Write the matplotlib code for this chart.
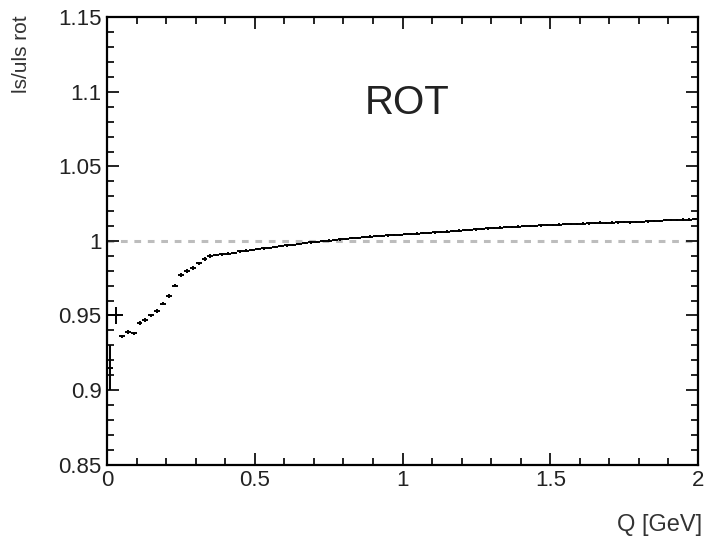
import numpy as np
import matplotlib.pyplot as plt
from matplotlib.ticker import MultipleLocator, FuncFormatter

plt.rcParams['font.family'] = ['Liberation Sans', 'DejaVu Sans']

# bin centres (0.02 GeV bins) and ratio values
q_centres = np.arange(0.01, 2.0, 0.02)
ratio = [
    0.915, 0.950, 0.936, 0.939, 0.938, 0.945, 0.947, 0.950, 0.953, 0.958,
    0.963, 0.970, 0.977, 0.980, 0.982, 0.985, 0.988, 0.990, 0.9905, 0.991,
    0.9915, 0.992, 0.993, 0.9935, 0.994, 0.9945, 0.995, 0.9955, 0.996, 0.9965,
    0.997, 0.9975, 0.998, 0.9985, 0.999, 0.9995, 1.000, 1.0003, 1.0008, 1.001,
    1.0015, 1.0018, 1.002, 1.0025, 1.003, 1.0032, 1.0035, 1.0038, 1.004, 1.004,
    1.0045, 1.0048, 1.005, 1.0052, 1.0055, 1.0057, 1.006, 1.0063, 1.0068, 1.007,
    1.0073, 1.0075, 1.0078, 1.008, 1.0085, 1.0088, 1.009, 1.0092, 1.0095, 1.0097,
    1.0099, 1.0100, 1.0102, 1.0104, 1.0106, 1.0108, 1.011, 1.0112, 1.0113, 1.0115,
    1.0117, 1.0118, 1.012, 1.0123, 1.0122, 1.0124, 1.0125, 1.0126, 1.0125, 1.0127,
    1.0129, 1.0131, 1.0133, 1.0136, 1.014, 1.0141, 1.0142, 1.0143, 1.0144, 1.0146,
]
ratio_err = [0.015, 0.006] + [0.0012] * 16 + [0.0008] * 82
bin_half = [0.01, 0.025] + [0.01] * 98

fig = plt.figure(figsize=(7.04, 5.41), dpi=100)
ax = fig.add_axes([0.152, 0.1414, 0.8395, 0.8263])

# reference line at 1
ax.plot([0, 2], [1, 1], color='#bdbdbd', lw=2.2, ls=(0, (2.2, 2.2)), zorder=1)

ax.errorbar(q_centres, ratio, xerr=bin_half, yerr=ratio_err, fmt='none',
            ecolor='black', elinewidth=1.4, capsize=0, zorder=3)

ax.set_xlim(0, 2)
ax.set_ylim(0.85, 1.15)

ax.xaxis.set_major_locator(MultipleLocator(0.5))
ax.xaxis.set_minor_locator(MultipleLocator(0.1))
ax.yaxis.set_major_locator(MultipleLocator(0.05))
ax.yaxis.set_minor_locator(MultipleLocator(0.01))
fmt = FuncFormatter(lambda v, p: ('%g' % round(v, 3)))
ax.xaxis.set_major_formatter(fmt)
ax.yaxis.set_major_formatter(fmt)

ax.tick_params(which='both', direction='in', top=True, right=True,
               width=1.4, labelsize=16, pad=4, colors='#222222')
ax.tick_params(which='major', length=8.5)
ax.tick_params(which='minor', length=5)
for s in ax.spines.values():
    s.set_linewidth(1.6)

ax.text(1.015, 1.0926, 'ROT', fontsize=29, ha='center', va='center', color='#222222')

fig.text(0.03, 0.972, 'ls/uls rot', rotation=90, ha='center', va='top',
         fontsize=15, color='#333333')
fig.text(0.997, 0.01, 'Q [GeV]', ha='right', va='bottom', fontsize=17, color='#333333')

plt.savefig('out.png', dpi=100)
plt.close()
